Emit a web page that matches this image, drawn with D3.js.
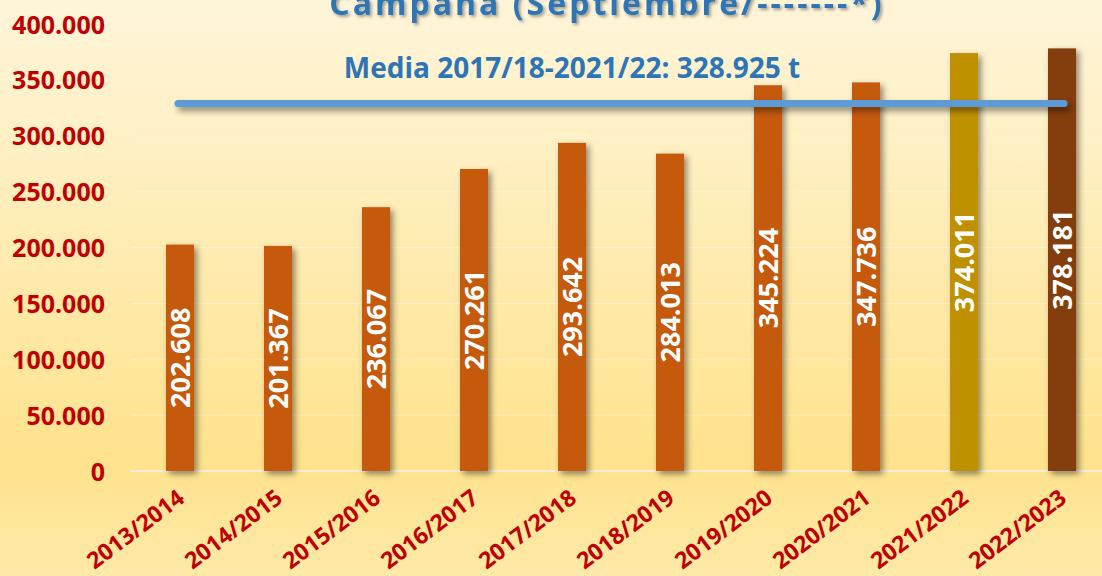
<!DOCTYPE html>
<html>
<head>
<meta charset="utf-8">
<script src="https://cdn.jsdelivr.net/npm/d3@7"></script>
<style>
  html, body { margin: 0; padding: 0; }
  svg { display: block; font-family: "Open Sans", sans-serif; }
</style>
</head>
<body>
<svg id="chart" width="1102" height="576"></svg>
<script>
// Campañas y toneladas
const campaigns = ["2013/2014", "2014/2015", "2015/2016", "2016/2017", "2017/2018",
  "2018/2019", "2019/2020", "2020/2021", "2021/2022", "2022/2023"];
const tonnes = [202608, 201367, 236067, 270261, 293642, 284013, 345224, 347736, 374011, 378181];
const barColors = ["#c55a11", "#c55a11", "#c55a11", "#c55a11", "#c55a11",
  "#c55a11", "#c55a11", "#c55a11", "#bf9000", "#843c0c"];
const yTicks = [0, 50000, 100000, 150000, 200000, 250000, 300000, 350000, 400000];
const meanValue = 328925;
const meanLabel = "Media 2017/18-2021/22: 328.925 t";
const title = "Campana (Septiembre/-------*)";

const width = 1102, height = 576;
const svg = d3.select("#chart");
const defs = svg.append("defs");

// background gradient
const bg = defs.append("linearGradient").attr("id", "bg")
  .attr("x1", 0).attr("y1", 0).attr("x2", 0).attr("y2", 1);
bg.append("stop").attr("offset", "0%").attr("stop-color", "#fef4d8");
bg.append("stop").attr("offset", "25%").attr("stop-color", "#fff0c4");
bg.append("stop").attr("offset", "80%").attr("stop-color", "#fee28c");
bg.append("stop").attr("offset", "100%").attr("stop-color", "#fee9a8");

const shadow = defs.append("filter").attr("id", "shadow")
  .attr("x", "-50%").attr("y", "-20%").attr("width", "200%").attr("height", "140%");
shadow.append("feDropShadow").attr("dx", 3).attr("dy", 3)
  .attr("stdDeviation", 3).attr("flood-color", "#000").attr("flood-opacity", 0.45);

// the mean line has no height, so its shadow filter works in user space
const lineShadow = defs.append("filter").attr("id", "lshadow")
  .attr("filterUnits", "userSpaceOnUse")
  .attr("x", 0).attr("y", 0).attr("width", width).attr("height", height);
lineShadow.append("feDropShadow").attr("dx", 3).attr("dy", 4)
  .attr("stdDeviation", 3).attr("flood-color", "#000").attr("flood-opacity", 0.45);

const textShadow = defs.append("filter").attr("id", "tshadow")
  .attr("x", "-10%").attr("y", "-30%").attr("width", "120%").attr("height", "160%");
textShadow.append("feDropShadow").attr("dx", 2).attr("dy", 2)
  .attr("stdDeviation", 1.5).attr("flood-color", "#000").attr("flood-opacity", 0.35);

svg.append("rect").attr("width", width).attr("height", height).attr("fill", "url(#bg)");

// scales
const x = d3.scaleBand().domain(campaigns).range([131, 1111]).paddingInner(0.714).paddingOuter(0.357);
const y = d3.scaleLinear().domain([0, 400000]).range([471, 24]);

// faint gridlines
svg.append("g").selectAll("line").data(yTicks.slice(1)).enter().append("line")
  .attr("x1", 131).attr("x2", width)
  .attr("y1", d => y(d)).attr("y2", d => y(d))
  .attr("stroke", "#fff6dc").attr("stroke-opacity", 0.5).attr("stroke-width", 1);

// y axis
const yAxis = svg.append("g").attr("transform", "translate(105,0)")
  .call(d3.axisLeft(y).tickValues(yTicks).tickSize(0).tickPadding(0)
    .tickFormat(d => d3.format(",")(d).replace(/,/g, ".")));
yAxis.select(".domain").remove();
yAxis.selectAll("text")
  .attr("fill", "#c00000").style("font-size", "25px").style("font-weight", "bold")
  .style("font-family", "'Open Sans', sans-serif").attr("dy", "0.36em");

// baseline
svg.append("line").attr("x1", 131).attr("x2", width)
  .attr("y1", y(0)).attr("y2", y(0))
  .attr("stroke", "#f6edd2").attr("stroke-width", 2);

// bars
svg.append("g").selectAll("rect").data(tonnes).enter().append("rect")
  .attr("x", (d, i) => x(campaigns[i]))
  .attr("y", d => y(d))
  .attr("width", x.bandwidth())
  .attr("height", d => y(0) - y(d))
  .attr("fill", (d, i) => barColors[i])
  .attr("filter", "url(#shadow)");

// value labels inside bars
svg.append("g").selectAll("text").data(tonnes).enter().append("text")
  .attr("transform", (d, i) => {
    const cx = x(campaigns[i]) + x.bandwidth() / 2;
    const cy = (y(d) + y(0)) / 2;
    return `translate(${cx},${cy}) rotate(-90)`;
  })
  .attr("text-anchor", "middle").attr("dy", "0.36em")
  .attr("fill", "#fff").style("font-size", "27px").style("font-weight", "bold")
  .text(d => d3.format(",")(d).replace(/,/g, "."));

// x labels
svg.append("g").selectAll("text").data(campaigns).enter().append("text")
  .attr("transform", d => `translate(${x(d) + x.bandwidth() / 2 + 6},${501}) rotate(-37)`)
  .attr("text-anchor", "end")
  .attr("fill", "#c00000").style("font-size", "23px").style("font-weight", "bold")
  .text(d => d);

// mean line
svg.append("line")
  .attr("x1", x(campaigns[0]) + x.bandwidth() / 2 - 2)
  .attr("x2", x(campaigns[campaigns.length - 1]) + x.bandwidth() / 2 + 2)
  .attr("y1", y(meanValue)).attr("y2", y(meanValue))
  .attr("stroke", "#5b9bd5").attr("stroke-width", 7).attr("stroke-linecap", "round")
  .attr("filter", "url(#lshadow)");

svg.append("text").attr("x", 572).attr("y", 78)
  .attr("text-anchor", "middle").attr("fill", "#2e75b6")
  .style("font-size", "28px").style("font-weight", "bold")
  .text(meanLabel);

// title (cut at the top)
svg.append("text").attr("x", 607).attr("y", 15)
  .attr("text-anchor", "middle").attr("fill", "#2e75b6")
  .style("font-size", "32px").style("font-weight", "bold").style("letter-spacing", "3px")
  .attr("filter", "url(#tshadow)")
  .text(title);
</script>
</body>
</html>
